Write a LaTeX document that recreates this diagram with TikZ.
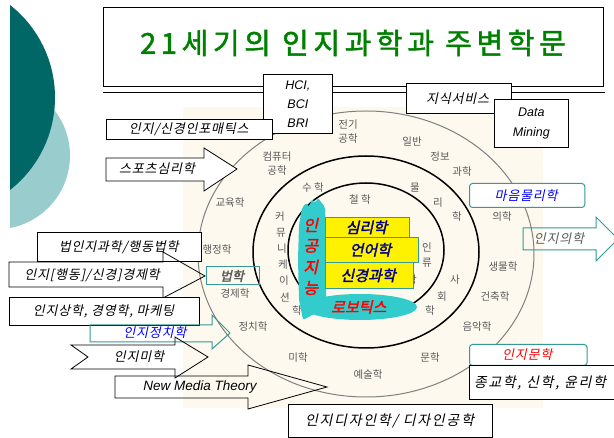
\documentclass[tikz,border=0pt]{standalone}
\usepackage{fontspec}
\newfontfamily\kr{Noto Sans CJK KR}
\newfontfamily\kri[LetterSpace=6]{Noto Sans CJK KR}
\newfontfamily\kriw[LetterSpace=12]{Noto Sans CJK KR}
\newfontfamily\krbi[FakeBold=2]{Noto Sans CJK KR}
\newfontfamily\krt[FakeBold=1.5,LetterSpace=16]{Noto Sans CJK KR}
\newfontfamily\lat{Liberation Sans}
\usetikzlibrary{shapes.geometric}
\definecolor{darkteal}{RGB}{0,102,102}
\definecolor{lightteal}{RGB}{153,204,204}
\definecolor{beige}{RGB}{253,249,238}
\definecolor{ringgray}{RGB}{128,128,128}
\definecolor{lblgray}{RGB}{90,90,90}
\definecolor{cyanshape}{RGB}{51,204,204}
\definecolor{tealline}{RGB}{51,153,153}
\definecolor{navy}{RGB}{0,0,128}
\definecolor{titlegreen}{RGB}{0,128,0}
\newcommand{\slt}[1]{\tikz[baseline=(SLT.base)]\node[inner sep=0pt,outer sep=0pt,draw=none,fill=none,xslant=0.22,transform shape](SLT){#1};}
\tikzset{
  lbl/.style={font=\kr\fontsize{10.5}{14}\selectfont, text=lblgray, inner sep=0pt, align=center},
  boxk/.style={draw=black, fill=white, line width=0.8pt, inner sep=0pt, anchor=north west, font=\kri\fontsize{13}{15}\selectfont},
  tealbox/.style={draw=tealline, fill=white, line width=1pt, rounded corners=3pt, inner sep=0pt, anchor=north west},
  yelbox/.style={draw=tealline, fill=yellow, line width=0.8pt, inner sep=0pt, anchor=north west, font=\krbi\fontsize{15}{17}\selectfont, text=navy},
  redtxt/.style={font=\krbi\fontsize{16}{18}\selectfont, text=red, inner sep=0pt},
  arrowline/.style={draw=black, line width=0.8pt},
  txt/.style={inner sep=0pt, font=\kri\fontsize{13}{15}\selectfont}
}
\begin{document}
\begin{tikzpicture}[x=1pt,y=-1pt]
\useasboundingbox (0,0) rectangle (614,438);
% decoration
\begin{scope}
  \clip (10,0) rectangle (200,300);
  \fill[lightteal] (-3.8,155.5) circle (73.8pt);
  \fill[darkteal] (-62.6,97.5) circle (117.6pt);
\end{scope}
% background
\fill[beige] (183,107) rectangle (543,408);
% rings
\draw[ringgray, line width=1pt] (366,254) ellipse [x radius=168pt, y radius=143pt];
\draw[black, line width=1.5pt] (366,252) ellipse [x radius=113pt, y radius=96pt];
\draw[black, line width=1.5pt] (366,250) ellipse [x radius=78pt, y radius=67pt];
% outer ring labels
\node[lbl] (elec) at (348,132) {전기\\공학};
\node[lbl] (gen) at (412,142) {일반};
\node[lbl] (info) at (440,157) {정보};
\node[lbl] (sci) at (462,172) {과학};
\node[lbl] (comp) at (277,164) {컴퓨터\\공학};
\node[lbl] (edu) at (230,203) {교육학};
\node[lbl] (admin) at (217,250) {행정학};
\node[draw=tealline, line width=1pt, minimum width=50pt, minimum height=18pt, inner sep=0pt, font=\krbi\fontsize{13}{15}\selectfont, text=lblgray] (law) at (233,276) {\slt{법학}};
\node[lbl] (econ) at (235,294) {경제학};
\node[lbl] (pol) at (253,327) {정치학};
\node[lbl] (aes) at (298,358) {미학};
\node[lbl] (art) at (368,375) {예술학};
\node[lbl] (lit) at (430,358) {문학};
\node[lbl] (mus) at (477,327) {음악학};
\node[lbl] (arch) at (495,297) {건축학};
\node[lbl] (bio) at (503,267) {생물학};
\node[lbl] (med) at (502,217) {의학};
% middle ring labels
\node[lbl] (math) at (313,188) {수\ 학};
\node[lbl] (ph1) at (415,188) {물};
\node[lbl] (ph2) at (438,203) {리};
\node[lbl] (ph3) at (457,217) {학};
\node[lbl] (c1) at (280,217) {커};
\node[lbl] (c2) at (281,233) {뮤};
\node[lbl] (c3) at (282,249) {니};
\node[lbl] (c4) at (283,265) {케};
\node[lbl] (c5) at (284,281) {이};
\node[lbl] (c6) at (285,297) {션};
\node[lbl] (c7) at (297,311) {학};
\node[lbl] (s1) at (455,280) {사};
\node[lbl] (s2) at (442,297) {회};
\node[lbl] (s3) at (430,311) {학};
% inner labels
\node[lbl] (phil) at (360,200) {철\ 학};
\node[lbl] (a1) at (427,247) {인};
\node[lbl] (a2) at (427,263) {류};
\node[lbl] (a3) at (412,280) {학};
% AI blob
\fill[cyanshape, rounded corners=2pt] (303,320) -- (299,300) -- (298,260) -- (299,225) -- (302,208) -- (306,203) -- (309,207) -- (312,199) -- (315,203) -- (318,198) -- (321,202) -- (325,207) -- (326,240) -- (326,300) -- (318,312) -- cycle;
\fill[cyanshape] (360,307) ellipse [x radius=57pt, y radius=13pt];
\node[redtxt, font=\krbi\fontsize{15}{17}\selectfont] (robot) at (360,307) {\slt{로보틱스}};
\node[redtxt] (ai1) at (312,225) {\slt{인}};
\node[redtxt] (ai2) at (312,246) {\slt{공}};
\node[redtxt] (ai3) at (312,267) {\slt{지}};
\node[redtxt] (ai4) at (312,288) {\slt{능}};
% yellow boxes
\node[yelbox, minimum width=80pt, minimum height=20pt] (psy) at (325,217) {\slt{심리학}};
\node[yelbox, minimum width=87pt, minimum height=25pt] (ling) at (325,237) {\slt{언어학}};
\node[yelbox, minimum width=82pt, minimum height=26pt] (neuro) at (325,262) {\slt{신경과학}};
% title
\node[draw=black, fill=white, line width=0.8pt, minimum width=500pt, minimum height=79pt, anchor=north west, inner sep=0pt] (titlebox) at (103,7) {};
\node[font=\krt\fontsize{29}{31}\selectfont, text=titlegreen, inner sep=0pt] (title) at (353,43) {21세기의 인지과학과 주변학문};
\coordinate (ul1) at (103,92);
\coordinate (ul2) at (605,92);
\draw[line width=0.8pt] (ul1) -- (ul2);
% top boxes
\node[boxk, minimum width=69pt, minimum height=59pt, align=center, font=\lat\itshape\fontsize{12.5}{19}\selectfont] (hci) at (263,74) {HCI,\\BCI\\BRI};
\node[boxk, minimum width=98pt, minimum height=30pt] (ks) at (406,83) {\slt{지식서비스}};
\node[boxk, minimum width=74pt, minimum height=48pt, align=center, font=\lat\itshape\fontsize{12.5}{20}\selectfont] (dm) at (494,99) {Data\\Mining};
% left side
\node[boxk, minimum width=162pt, minimum height=20pt] (infor) at (106,119) {\slt{인지/신경인포매틱스}};
\draw[arrowline, fill=white] (106,158) -- (204,158) -- (204,148) -- (237,169) -- (204,191) -- (204,181) -- (106,181) -- cycle;
\node[txt] (sport) at (158,169) {\slt{스포츠심리학}};
\node[boxk, minimum width=158pt, minimum height=29pt] (lawcog) at (37,232) {\slt{법인지과학/행동법학}};
\draw[arrowline] (9,262) -- (163,262) -- (163,252) -- (205,276) -- (163,298) -- (163,287) -- (9,287) -- cycle;
\node[txt] (econcog) at (93,275) {\slt{인지[행동]/신경]경제학}};
\node[boxk, minimum width=184pt, minimum height=28pt] (biz) at (9,297) {\slt{인지상학, 경영학, 마케팅}};
\draw[draw=tealline, line width=1pt] (90,325) -- (212,325) -- (212,315) -- (230,333) -- (212,349) -- (212,342) -- (90,342) -- cycle;
\node[txt, text=blue] (polcog) at (156,333) {\slt{인지정치학}};
\draw[arrowline] (71,345) -- (175,345) -- (175,337) -- (208,357) -- (175,378) -- (175,369) -- (71,369) -- (88,357) -- cycle;
\node[txt] (aescog) at (140,357) {\slt{인지미학}};
\draw[arrowline] (115,376) -- (248,376) -- (248,365) -- (327,387) -- (248,409) -- (248,398) -- (115,398) -- cycle;
\node[inner sep=0pt, font=\lat\itshape\fontsize{13.5}{15}\selectfont] (nmt) at (200,387) {New Media Theory};
% right side
\node[tealbox, minimum width=110pt, minimum height=24pt, font=\kri\fontsize{13}{15}\selectfont, text=blue] (mind) at (469,183) {\slt{마음물리학}};
\draw[draw=tealline, line width=1pt] (523,228) -- (596,228) -- (596,217) -- (618,239) -- (596,261) -- (596,250) -- (523,250) -- cycle;
\node[txt, text=lblgray] (medcog) at (560,239) {\slt{인지의학}};
\node[tealbox, minimum width=113pt, minimum height=21pt, font=\kri\fontsize{13}{15}\selectfont, text=red] (litcog) at (469,344) {\slt{인지문학}};
\node[boxk, minimum width=151pt, minimum height=34pt] (rel) at (469,365) {};
\node[txt, anchor=west, font=\kriw\fontsize{14}{16}\selectfont] (reltxt) at (473,383) {\slt{종교학, 신학, 윤리학}};
\node[boxk, minimum width=197pt, minimum height=33pt, font=\kriw\fontsize{14}{16}\selectfont] (design) at (288,404) {\slt{인지디자인학/ 디자인공학}};
\end{tikzpicture}
\end{document}
